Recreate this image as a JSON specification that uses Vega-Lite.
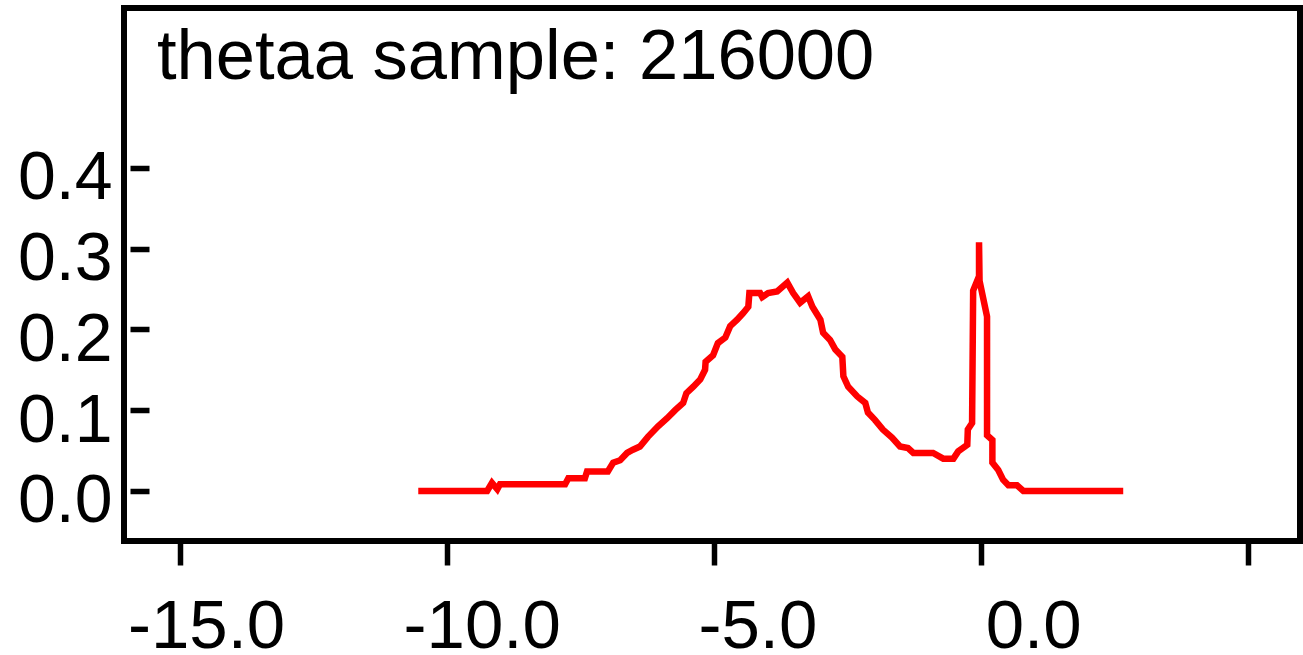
{
  "$schema": "https://vega.github.io/schema/vega-lite/v6.json",
  "width": 1176,
  "height": 533,
  "autosize": {"type": "none"},
  "padding": {"left": 124, "top": 8, "right": 3, "bottom": 114},
  "background": "white",
  "config": {
    "view": {"stroke": "black", "strokeWidth": 6},
    "font": "Liberation Sans"
  },
  "title": {
    "text": "thetaa sample: 216000",
    "anchor": "start",
    "frame": "group",
    "orient": "top",
    "fontSize": 70.5,
    "font": "Liberation Sans",
    "fontWeight": "normal",
    "color": "black",
    "baseline": "alphabetic",
    "offset": 0,
    "dx": 33,
    "dy": 141
  },
  "data": {
    "values": [
      {"i": 0, "x": -10.54, "y": 0},
      {"i": 1, "x": -9.25, "y": 0},
      {"i": 2, "x": -9.16, "y": 0.0099},
      {"i": 3, "x": -9.06, "y": 0.002},
      {"i": 4, "x": -9.01, "y": 0.0083},
      {"i": 5, "x": -7.79, "y": 0.0083},
      {"i": 6, "x": -7.73, "y": 0.0157},
      {"i": 7, "x": -7.42, "y": 0.0157},
      {"i": 8, "x": -7.38, "y": 0.024},
      {"i": 9, "x": -6.99, "y": 0.024},
      {"i": 10, "x": -6.89, "y": 0.035},
      {"i": 11, "x": -6.76, "y": 0.038},
      {"i": 12, "x": -6.63, "y": 0.047},
      {"i": 13, "x": -6.52, "y": 0.051},
      {"i": 14, "x": -6.39, "y": 0.055},
      {"i": 15, "x": -6.24, "y": 0.067},
      {"i": 16, "x": -6.05, "y": 0.08},
      {"i": 17, "x": -5.88, "y": 0.09},
      {"i": 18, "x": -5.73, "y": 0.1},
      {"i": 19, "x": -5.58, "y": 0.109},
      {"i": 20, "x": -5.52, "y": 0.121},
      {"i": 21, "x": -5.39, "y": 0.129},
      {"i": 22, "x": -5.26, "y": 0.138},
      {"i": 23, "x": -5.17, "y": 0.15},
      {"i": 24, "x": -5.16, "y": 0.16},
      {"i": 25, "x": -5.02, "y": 0.168},
      {"i": 26, "x": -4.93, "y": 0.183},
      {"i": 27, "x": -4.79, "y": 0.19},
      {"i": 28, "x": -4.7, "y": 0.204},
      {"i": 29, "x": -4.57, "y": 0.212},
      {"i": 30, "x": -4.46, "y": 0.22},
      {"i": 31, "x": -4.36, "y": 0.228},
      {"i": 32, "x": -4.34, "y": 0.245},
      {"i": 33, "x": -4.14, "y": 0.245},
      {"i": 34, "x": -4.1, "y": 0.24},
      {"i": 35, "x": -3.99, "y": 0.245},
      {"i": 36, "x": -3.82, "y": 0.247},
      {"i": 37, "x": -3.63, "y": 0.258},
      {"i": 38, "x": -3.52, "y": 0.245},
      {"i": 39, "x": -3.39, "y": 0.233},
      {"i": 40, "x": -3.24, "y": 0.241},
      {"i": 41, "x": -3.16, "y": 0.228},
      {"i": 42, "x": -3.01, "y": 0.212},
      {"i": 43, "x": -2.96, "y": 0.196},
      {"i": 44, "x": -2.83, "y": 0.187},
      {"i": 45, "x": -2.73, "y": 0.175},
      {"i": 46, "x": -2.6, "y": 0.166},
      {"i": 47, "x": -2.58, "y": 0.142},
      {"i": 48, "x": -2.49, "y": 0.129},
      {"i": 49, "x": -2.32, "y": 0.117},
      {"i": 50, "x": -2.17, "y": 0.109},
      {"i": 51, "x": -2.12, "y": 0.097},
      {"i": 52, "x": -1.99, "y": 0.088},
      {"i": 53, "x": -1.84, "y": 0.076},
      {"i": 54, "x": -1.67, "y": 0.066},
      {"i": 55, "x": -1.52, "y": 0.055},
      {"i": 56, "x": -1.37, "y": 0.053},
      {"i": 57, "x": -1.27, "y": 0.047},
      {"i": 58, "x": -0.9, "y": 0.047},
      {"i": 59, "x": -0.71, "y": 0.04},
      {"i": 60, "x": -0.52, "y": 0.04},
      {"i": 61, "x": -0.43, "y": 0.049},
      {"i": 62, "x": -0.26, "y": 0.057},
      {"i": 63, "x": -0.25, "y": 0.076},
      {"i": 64, "x": -0.17, "y": 0.084},
      {"i": 65, "x": -0.15, "y": 0.248},
      {"i": 66, "x": -0.04, "y": 0.266},
      {"i": 67, "x": -0.04, "y": 0.308},
      {"i": 68, "x": -0.03, "y": 0.26},
      {"i": 69, "x": 0.11, "y": 0.216},
      {"i": 70, "x": 0.11, "y": 0.069},
      {"i": 71, "x": 0.21, "y": 0.063},
      {"i": 72, "x": 0.21, "y": 0.035},
      {"i": 73, "x": 0.32, "y": 0.026},
      {"i": 74, "x": 0.41, "y": 0.014},
      {"i": 75, "x": 0.51, "y": 0.007},
      {"i": 76, "x": 0.67, "y": 0.007},
      {"i": 77, "x": 0.79, "y": 0},
      {"i": 78, "x": 2.66, "y": 0}
    ]
  },
  "mark": {"type": "line", "color": "#ff0000", "strokeWidth": 6.5, "clip": true},
  "encoding": {
    "x": {
      "field": "x",
      "type": "quantitative",
      "scale": {"domain": [-16.05, 5.97], "nice": false, "zero": false},
      "axis": {
        "title": null,
        "values": [-15, -10, -5, 0, 5],
        "domain": false,
        "grid": false,
        "tickSize": 24,
        "tickWidth": 5.5,
        "tickColor": "black",
        "labelFontSize": 69,
        "labelFont": "Liberation Sans",
        "labelColor": "black",
        "labelBaseline": "alphabetic",
        "labelPadding": 82,
        "labelFlush": false,
        "labelOverlap": false,
        "labelExpr": "datum.value == 5 ? '' : datum.value + '.0'",
        "labelOffset": {"expr": "26 + (datum.value + 15) * 1.73"}
      }
    },
    "y": {
      "field": "y",
      "type": "quantitative",
      "scale": {"domain": [-0.062, 0.598], "nice": false, "zero": false},
      "axis": {
        "title": null,
        "values": [0, 0.1, 0.2, 0.3, 0.4],
        "format": ".1f",
        "domain": false,
        "grid": false,
        "offset": -6,
        "tickSize": -19,
        "tickWidth": 5.5,
        "tickColor": "black",
        "labelFontSize": 68,
        "labelFont": "Liberation Sans",
        "labelColor": "black",
        "labelAlign": "right",
        "labelBaseline": "alphabetic",
        "labelOffset": 31,
        "labelPadding": 37,
        "labelFlush": false,
        "labelOverlap": false
      }
    },
    "order": {"field": "i", "type": "quantitative"}
  }
}
